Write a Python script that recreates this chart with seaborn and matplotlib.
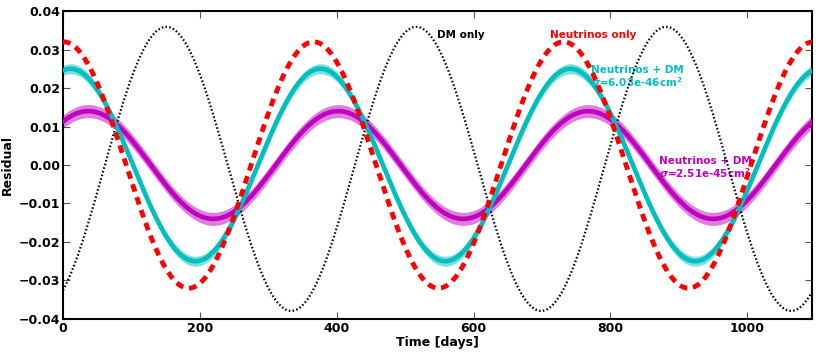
import numpy as np
import pandas as pd
import seaborn as sns
import matplotlib
matplotlib.use("Agg")
import matplotlib.pyplot as plt

# curve parameters (annual modulation, days)
period = 365.25
series = ["DM only", "Neutrinos only", "Neutrinos + DM 6.03e-46", "Neutrinos + DM 2.51e-45"]
amplitude = [0.0369, 0.032, 0.025, 0.014]
peak_day = [151, 1, 11, 37]
offset = [-0.001, 0.0, 0.0, 0.0]
band_half = [0.0, 0.0, 0.0013, 0.0017]
colors = ["black", "#ff0000", "#00bfbf", "#bf00bf"]

t = np.linspace(0, 1100, 1101)

sns.set_style("ticks")
plt.rcParams["font.family"] = ["DejaVu Sans"]
plt.rcParams["font.weight"] = "bold"
plt.rcParams["axes.labelweight"] = "bold"
plt.rcParams["axes.labelcolor"] = "black"
plt.rcParams["text.color"] = "black"

fig = plt.figure(figsize=(8.18, 3.56), dpi=100)
ax = fig.add_axes([0.077, 0.104, 0.916, 0.865])

rows = []
for name, a, p, o in zip(series, amplitude, peak_day, offset):
    y = o + a * np.cos(2 * np.pi * (t - p) / period)
    rows.append(pd.DataFrame({"t": t, "y": y, "series": name}))
df = pd.concat(rows)

# bands for the fitted curves
for name, hw, c in zip(series, band_half, colors):
    if hw > 0:
        d = df[df.series == name]
        ax.fill_between(d.t, d.y - hw, d.y + hw, color=c, alpha=0.5, lw=0, zorder=2)

styles = {
    "DM only": dict(lw=1.6, ls=(0, (0.7, 1.0)), zorder=3),
    "Neutrinos + DM 2.51e-45": dict(lw=3.3, ls="-", zorder=4),
    "Neutrinos + DM 6.03e-46": dict(lw=3.3, ls="-", zorder=5),
    "Neutrinos only": dict(lw=3.5, ls=(0, (1.6, 1.2)), zorder=6),
}
for name, c in zip(series, colors):
    d = df[df.series == name]
    sns.lineplot(data=d, x="t", y="y", color=c, ax=ax, legend=False, **styles[name])

ax.text(547, 0.0338, "DM only", color="black", fontsize=7.5, fontweight="bold", va="center", zorder=1)
ax.text(711, 0.0338, "Neutrinos only", color="#ff0000", fontsize=7.5, fontweight="bold", va="center", zorder=1)
ax.text(772, 0.0228, "Neutrinos + DM\n$\\sigma$=6.03e-46cm$^2$", color="#00bfbf", fontsize=7.5,
        fontweight="bold", va="center", ha="left", linespacing=1.0, zorder=1)
ax.text(871, -0.0008, "Neutrinos + DM\n$\\sigma$=2.51e-45cm$^2$", color="#bf00bf", fontsize=7.5,
        fontweight="bold", va="center", ha="left", linespacing=1.0, zorder=1)

ax.set_xlim(0, 1095)
ax.set_ylim(-0.04, 0.04)
ax.set_xticks([0, 200, 400, 600, 800, 1000])
yt = [-0.04, -0.03, -0.02, -0.01, 0.0, 0.01, 0.02, 0.03, 0.04]
ax.set_yticks(yt)
ax.set_yticklabels([("%.2f" % v).replace("-", "\u2212") if v != 0 else "0.00" for v in yt])
ax.tick_params(direction="in", top=True, right=True, length=5, width=0.8, color="#555555",
               labelsize=9, pad=2, labelcolor="black")
for lab in ax.get_xticklabels() + ax.get_yticklabels():
    lab.set_fontweight("bold")
for s in ax.spines.values():
    s.set_linewidth(1.5)
    s.set_color("black")

ax.set_xlabel("Time [days]", fontsize=9, fontweight="bold", labelpad=1)
ax.set_ylabel("Residual", fontsize=9, fontweight="bold")
ax.yaxis.set_label_coords(-0.066, 0.5)

fig.savefig("out.png", dpi=100)
